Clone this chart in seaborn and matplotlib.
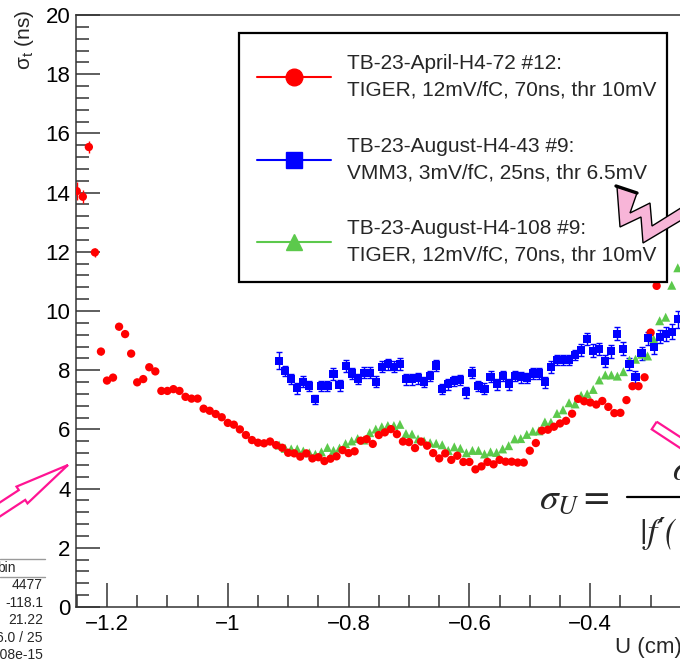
import matplotlib
matplotlib.use("Agg")
import matplotlib.pyplot as plt
import seaborn as sns
import pandas as pd
from matplotlib.lines import Line2D
from matplotlib.patches import Polygon, Rectangle
from matplotlib.ticker import MultipleLocator, AutoMinorLocator, FuncFormatter

# ---------------- data ----------------
red_u = [-1.25, -1.24, -1.23, -1.22, -1.21, -1.20, -1.19, -1.18, -1.17, -1.16,
         -1.15, -1.14, -1.13, -1.12, -1.11, -1.10, -1.09, -1.08, -1.07, -1.06,
         -1.05, -1.04, -1.03, -1.02, -1.01, -1.00, -0.99, -0.98, -0.97, -0.96,
         -0.95, -0.94, -0.93, -0.92, -0.91, -0.90, -0.89, -0.88, -0.87, -0.86,
         -0.85, -0.84, -0.83, -0.82, -0.81, -0.80, -0.79, -0.78, -0.77, -0.76,
         -0.75, -0.74, -0.73, -0.72, -0.71, -0.70, -0.69, -0.68, -0.67, -0.66,
         -0.65, -0.64, -0.63, -0.62, -0.61, -0.60, -0.59, -0.58, -0.57, -0.56,
         -0.55, -0.54, -0.53, -0.52, -0.51, -0.50, -0.49, -0.48, -0.47, -0.46,
         -0.45, -0.44, -0.43, -0.42, -0.41, -0.40, -0.39, -0.38, -0.37, -0.36,
         -0.35, -0.34, -0.33, -0.32, -0.31, -0.30, -0.29]
red_sigma = [14.05, 13.86, 15.54, 11.98, 8.63, 7.65, 7.75, 9.47, 9.22, 8.56,
             7.59, 7.70, 8.10, 7.96, 7.30, 7.30, 7.36, 7.30, 7.10, 7.04,
             7.04, 6.70, 6.63, 6.52, 6.41, 6.22, 6.16, 6.00, 5.81, 5.64,
             5.55, 5.53, 5.59, 5.47, 5.38, 5.21, 5.19, 5.08, 5.19, 5.02,
             5.06, 4.93, 5.01, 5.09, 5.30, 5.20, 5.26, 5.62, 5.67, 5.51,
             5.81, 5.90, 6.01, 5.84, 5.59, 5.57, 5.37, 5.59, 5.45, 5.20,
             5.02, 5.19, 4.97, 5.11, 4.90, 4.90, 4.65, 4.75, 4.90, 4.82,
             4.97, 4.91, 4.91, 4.88, 4.88, 5.28, 5.54, 5.96, 5.99, 6.09,
             6.20, 6.29, 6.53, 7.03, 6.95, 6.91, 6.84, 6.96, 6.76, 6.55,
             6.56, 6.99, 7.46, 7.46, 7.76, 9.27, 10.85]
red_err = [0.30, 0.22, 0.20, 0.15, 0.10, 0.08, 0.08, 0.10, 0.10, 0.08,
           0.08, 0.08, 0.08, 0.08, 0.06, 0.06, 0.06, 0.06, 0.06, 0.06,
           0.06, 0.06, 0.06, 0.06, 0.06, 0.06, 0.06, 0.06, 0.06, 0.06,
           0.06, 0.06, 0.06, 0.06, 0.06, 0.06, 0.06, 0.06, 0.06, 0.06,
           0.06, 0.06, 0.06, 0.06, 0.06, 0.06, 0.06, 0.06, 0.06, 0.06,
           0.06, 0.06, 0.06, 0.06, 0.06, 0.06, 0.06, 0.06, 0.06, 0.06,
           0.06, 0.06, 0.06, 0.06, 0.06, 0.06, 0.06, 0.06, 0.06, 0.06,
           0.06, 0.06, 0.06, 0.06, 0.06, 0.06, 0.06, 0.06, 0.06, 0.06,
           0.06, 0.06, 0.06, 0.06, 0.06, 0.06, 0.06, 0.06, 0.06, 0.06,
           0.06, 0.06, 0.06, 0.06, 0.06, 0.08, 0.10]

aug_u = [-0.915, -0.905, -0.895, -0.885, -0.875, -0.865, -0.855, -0.845, -0.835, -0.825,
         -0.815, -0.805, -0.795, -0.785, -0.775, -0.765, -0.755, -0.745, -0.735, -0.725,
         -0.715, -0.705, -0.695, -0.685, -0.675, -0.665, -0.655, -0.645, -0.635, -0.625,
         -0.615, -0.605, -0.595, -0.585, -0.575, -0.565, -0.555, -0.545, -0.535, -0.525,
         -0.515, -0.505, -0.495, -0.485, -0.475, -0.465, -0.455, -0.445, -0.435, -0.425,
         -0.415, -0.405, -0.395, -0.385, -0.375, -0.365, -0.355, -0.345, -0.335, -0.325,
         -0.315, -0.305, -0.295, -0.285, -0.275, -0.265, -0.255]
blue_sigma = [8.32, 7.97, 7.70, 7.39, 7.61, 7.47, 7.02, 7.47, 7.47, 7.88,
              7.49, 8.15, 7.89, 7.70, 7.92, 7.92, 7.61, 8.12, 8.20, 8.12,
              8.20, 7.69, 7.69, 7.73, 7.60, 7.80, 8.16, 7.36, 7.52, 7.63,
              7.67, 7.25, 7.92, 7.47, 7.38, 7.78, 7.52, 7.80, 7.52, 7.80,
              7.76, 7.74, 7.89, 7.89, 7.59, 8.10, 8.34, 8.34, 8.34, 8.51,
              8.67, 9.04, 8.65, 8.71, 8.32, 8.64, 9.23, 8.73, 8.20, 7.76,
              8.57, 9.08, 8.77, 9.13, 9.21, 9.30, 9.72]
blue_err = [0.28, 0.18, 0.18, 0.18, 0.18, 0.18, 0.15, 0.18, 0.18, 0.20,
            0.18, 0.20, 0.18, 0.18, 0.20, 0.20, 0.18, 0.18, 0.18, 0.18,
            0.20, 0.18, 0.18, 0.18, 0.18, 0.18, 0.20, 0.18, 0.18, 0.18,
            0.18, 0.18, 0.18, 0.18, 0.18, 0.18, 0.18, 0.18, 0.18, 0.18,
            0.18, 0.18, 0.20, 0.20, 0.18, 0.20, 0.18, 0.18, 0.18, 0.18,
            0.20, 0.20, 0.22, 0.20, 0.20, 0.22, 0.22, 0.22, 0.20, 0.20,
            0.22, 0.22, 0.22, 0.22, 0.24, 0.25, 0.28]
green_sigma = [5.47, 5.36, 5.34, 5.34, 5.27, 5.21, 5.16, 5.24, 5.39, 5.29,
               5.37, 5.52, 5.61, 5.69, 5.64, 5.89, 6.01, 6.09, 6.13, 6.13,
               6.17, 5.86, 5.84, 5.68, 5.61, 5.55, 5.53, 5.48, 5.29, 5.41,
               5.36, 5.21, 5.29, 5.29, 5.17, 5.24, 5.22, 5.34, 5.45, 5.68,
               5.69, 5.83, 5.94, 5.95, 6.25, 6.24, 6.54, 6.66, 6.90, 6.86,
               7.15, 7.20, 7.35, 7.67, 7.84, 7.84, 7.80, 7.95, 8.34, 8.37,
               8.54, 8.48, 9.05, 9.67, 9.79, 10.87, 11.46]

legend_labels = ["TB-23-April-H4-72 #12:\nTIGER, 12mV/fC, 70ns, thr 10mV",
                 "TB-23-August-H4-43 #9:\nVMM3, 3mV/fC, 25ns, thr 6.5mV",
                 "TB-23-August-H4-108 #9:\nTIGER, 12mV/fC, 70ns, thr 10mV"]
stats_rows = ["4477", "-118.1", "21.22", "6.0 / 25", "908e-15"]

RED, BLUE, GREEN = "#ff0000", "#0000ff", "#5cc94c"
PINK_EDGE, PINK_FILL = "#ff1493", "#f8b5d8"

# ---------------- style ----------------
sns.set_theme(style="ticks")
plt.rcParams["font.family"] = ["Liberation Sans", "DejaVu Sans"]
plt.rcParams["mathtext.fontset"] = "custom"
plt.rcParams["mathtext.rm"] = "Liberation Sans"
plt.rcParams["mathtext.it"] = "Liberation Sans:italic"
plt.rcParams["mathtext.bf"] = "Liberation Sans:bold"

W, H = 680, 659
fig = plt.figure(figsize=(W / 100, H / 100), dpi=100)
fig.patch.set_facecolor("white")


def fx(x):
    return x / W


def fy(y):
    return 1 - y / H


def P(pts):
    return [(fx(x), fy(y)) for x, y in pts]


ax = fig.add_axes([fx(76), fy(607), (711 - 76) / W, (607 - 15) / H])
ax.set_facecolor("white")

red_df = pd.DataFrame({"U": red_u, "sigma": red_sigma})
blue_df = pd.DataFrame({"U": aug_u, "sigma": blue_sigma})
green_df = pd.DataFrame({"U": aug_u, "sigma": green_sigma})

ax.errorbar(red_u, red_sigma, yerr=red_err, fmt="none", ecolor=RED, elinewidth=1, zorder=2)
ax.errorbar(aug_u, blue_sigma, yerr=blue_err, fmt="none", ecolor=BLUE, elinewidth=1,
            capsize=2.5, capthick=1, zorder=2)
sns.scatterplot(data=green_df, x="U", y="sigma", marker="^", s=42, color=GREEN,
                edgecolor="none", legend=False, ax=ax, zorder=3)
sns.scatterplot(data=red_df, x="U", y="sigma", marker="o", s=36, color=RED,
                edgecolor="none", legend=False, ax=ax, zorder=3)
sns.scatterplot(data=blue_df, x="U", y="sigma", marker="s", s=34, color=BLUE,
                edgecolor="none", legend=False, ax=ax, zorder=3)

ax.set_xlim(-1.2513, -0.2)
ax.set_ylim(0, 20)
ax.set_xlabel("")
ax.set_ylabel("")

ax.xaxis.set_major_locator(MultipleLocator(0.2))
ax.xaxis.set_minor_locator(AutoMinorLocator(4))
ax.yaxis.set_major_locator(MultipleLocator(2))
ax.yaxis.set_minor_locator(AutoMinorLocator(5))
ax.xaxis.set_major_formatter(FuncFormatter(lambda v, p: f"{v:g}".replace("-", "\u2212")))
ax.tick_params(axis="both", which="major", direction="in", length=17, width=1.1,
               color="#333333", labelsize=16, labelcolor="black")
ax.tick_params(axis="both", which="minor", direction="in", length=9, width=1.1,
               color="#333333")
ax.tick_params(axis="x", pad=5)
ax.tick_params(axis="y", pad=4)
ax.tick_params(top=False, right=False, which="both")
for side in ["left", "bottom", "top", "right"]:
    ax.spines[side].set_color("#333333")
    ax.spines[side].set_linewidth(1.1)

# axis titles
fig.text(fx(24), fy(10), r"$\mathregular{\sigma_{t}}$ (ns)", rotation=90,
         ha="center", va="top", fontsize=15)
fig.text(fx(615), fy(648), "U (cm)", ha="left", va="center", fontsize=16)

# legend: opaque box over the data, entries drawn on top of it
legend_box = Rectangle((fx(239), fy(282)), fx(667) - fx(239), fy(33) - fy(282),
                       transform=fig.transFigure, facecolor="white", edgecolor="black",
                       lw=1.6, zorder=2)
fig.add_artist(legend_box)
handles = [
    Line2D([], [], color=RED, lw=1.5, marker="o", ms=12, markeredgecolor=RED),
    Line2D([], [], color=BLUE, lw=1.5, marker="s", ms=11, markeredgecolor=BLUE),
    Line2D([], [], color=GREEN, lw=1.5, marker="^", ms=12, markeredgecolor=GREEN),
]
leg = fig.legend(handles, legend_labels, loc="upper left",
                 bbox_to_anchor=(fx(246), fy(43)), bbox_transform=fig.transFigure,
                 fontsize=15, frameon=False, handlelength=3.55, handletextpad=0.75,
                 labelspacing=1.76, borderpad=0.55, borderaxespad=0)
leg.set_zorder(3)
for t in leg.get_texts():
    t.set_linespacing(1.5)

# annotation shapes
arrow_left = Polygon(P([(68, 465), (16.5, 486.6), (18.8, 490.1), (-31.6, 523),
                        (-25.2, 532.9), (25.2, 499.9), (27.5, 503.4)]),
                     closed=True, transform=fig.transFigure, fill=False,
                     edgecolor=PINK_EDGE, lw=1.6, zorder=8)
fig.add_artist(arrow_left)

arrow_right = Polygon(P([(656.7, 421.7), (720, 463), (715, 471), (651.7, 429.3)]),
                      closed=True, transform=fig.transFigure, fill=False,
                      edgecolor=PINK_EDGE, lw=1.6, zorder=8)
fig.add_artist(arrow_right)

zigzag = Polygon(P([(617, 187), (620, 227), (641, 217), (643, 243), (700, 209),
                    (700, 196), (652, 226), (650, 203), (630, 213), (637, 193)]),
                 closed=True, transform=fig.transFigure, facecolor=PINK_FILL,
                 edgecolor="black", lw=1.0, zorder=8)
fig.add_artist(zigzag)
fig.add_artist(Line2D([fx(616), fx(637)], [fy(186), fy(193)], transform=fig.transFigure,
                      color="black", lw=2.4, zorder=9))

# formula
fig.text(fx(539), fy(509), r"$\sigma_U =$", fontsize=27, math_fontfamily="stix",
         ha="left", va="baseline", zorder=9)
fig.add_artist(Line2D([fx(627), fx(720)], [fy(497), fy(497)], transform=fig.transFigure,
                      color="black", lw=1.6, zorder=9))
fig.text(fx(638), fy(543), "|f\u2032(U)|", fontsize=25,
         family=["STIXGeneral", "DejaVu Serif"], style="italic",
         ha="left", va="baseline", zorder=9)
fig.text(fx(672), fy(480), r"$\sigma_t$", fontsize=25, math_fontfamily="stix",
         ha="left", va="baseline", zorder=9)

# partial statistics box at the lower left
fig.add_artist(Line2D([0, fx(45)], [fy(559), fy(559)], transform=fig.transFigure,
                      color="#9a9a9a", lw=1.0))
fig.add_artist(Line2D([0, fx(45)], [fy(577), fy(577)], transform=fig.transFigure,
                      color="#9a9a9a", lw=1.0))
fig.text(fx(-3), fy(568), "bin", ha="left", va="center", fontsize=10)
for i, row in enumerate(stats_rows):
    fig.text(fx(43), fy(585 + 17.6 * i), row, ha="right", va="center", fontsize=10)

fig.savefig("out.png", dpi=100)
